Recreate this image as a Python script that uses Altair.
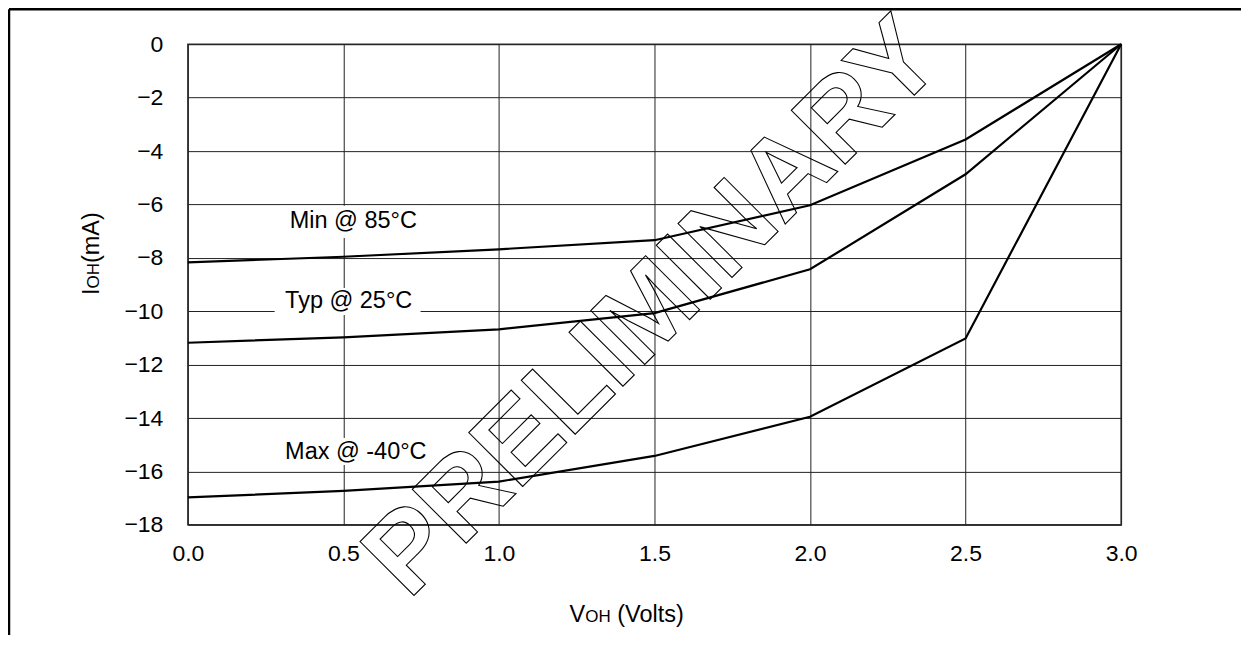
import altair as alt
import pandas as pd

# ---- data ----
voh = [0.0, 0.5, 1.0, 1.5, 2.0, 2.5, 3.0]
ioh_min_85 = [-8.17, -7.96, -7.68, -7.34, -6.03, -3.57, 0.0]
ioh_typ_25 = [-11.18, -10.98, -10.68, -10.07, -8.43, -4.87, 0.0]
ioh_max_m40 = [-16.97, -16.73, -16.38, -15.42, -13.95, -11.02, 0.0]
series_names = ["Min @ 85°C", "Typ @ 25°C", "Max @ -40°C"]

x_ticks = [0.0, 0.5, 1.0, 1.5, 2.0, 2.5, 3.0]
y_ticks = [-18, -16, -14, -12, -10, -8, -6, -4, -2, 0]

# annotation anchors (data units) and their white backing boxes
label_x = [0.532, 0.517, 0.540]
label_y = [-6.89, -9.88, -15.53]
box_x1 = [0.296, 0.279, 0.279]
box_x2 = [0.768, 0.748, 0.800]
box_y1 = [-6.05, -9.13, -14.75]
box_y2 = [-7.26, -10.14, -15.76]

watermark = "PRELIMINARY"

# ---- tables ----
rows = []
for name, vals in zip(series_names, [ioh_min_85, ioh_typ_25, ioh_max_m40]):
    for v, i in zip(voh, vals):
        rows.append({"series": name, "v": v, "i": i})
df = pd.DataFrame(rows)

ann = pd.DataFrame({
    "label": series_names, "lx": label_x, "ly": label_y,
    "bx1": box_x1, "bx2": box_x2, "by1": box_y1, "by2": box_y2,
})

W, H = 934, 481
FONT = "Liberation Sans"
FS = 23
FA = 23.5

x_scale = alt.Scale(domain=[0, 3], nice=False, zero=False)
y_scale = alt.Scale(domain=[-18, 0], nice=False, zero=False)

boxes = alt.Chart(ann).mark_rect(fill="white", stroke=None).encode(
    x=alt.X("bx1:Q", scale=x_scale, title=None,
            axis=alt.Axis(values=x_ticks, format=".1f", labelFlush=False,
                          labelPadding=18, labelOverlap=False)),
    x2="bx2:Q",
    y=alt.Y("by1:Q", scale=y_scale, title=None,
            axis=alt.Axis(values=y_ticks, format="d", labelFlush=False,
                          labelPadding=25, labelOverlap=False)),
    y2="by2:Q",
)

lines = alt.Chart(df).mark_line(color="black", strokeWidth=2.2).encode(
    x=alt.X("v:Q", scale=x_scale, title=None),
    y=alt.Y("i:Q", scale=y_scale, title=None),
    detail="series:N",
)

labels = alt.Chart(ann).mark_text(
    font=FONT, fontSize=FA, align="center", baseline="alphabetic", color="black"
).encode(
    x=alt.X("lx:Q", scale=x_scale, title=None),
    y=alt.Y("ly:Q", scale=y_scale, title=None),
    text="label:N",
)


def txt(s, x, y, size=FA, angle=0, align="left", weight="normal"):
    return alt.Chart(pd.DataFrame({"t": [s]})).mark_text(
        font=FONT, fontSize=size, align=align, baseline="alphabetic",
        color="black", angle=angle, fontWeight=weight,
    ).encode(text="t:N", x=alt.value(x), y=alt.value(y))


# x axis title  "VOH (Volts)" with small OH
xt = [
    txt("V", 382, 578),
    txt("OH", 397.7, 578, size=17),
    txt("(Volts)", 429.7, 578),
]
# y axis title "IOH(mA)" rotated
yt = [
    txt("I", -89, 251, angle=270),
    txt("OH", -89, 244.5, size=17, angle=270),
    txt("(mA)", -89, 219.0, angle=270),
]

wm = alt.Chart(pd.DataFrame({"t": [watermark]})).mark_text(
    font=FONT, fontSize=111, fontWeight="bold", align="left",
    baseline="alphabetic", angle=315, fill=None, stroke="black",
    strokeWidth=1.1,
).encode(text="t:N", x=alt.value(221), y=alt.value(557))

one = pd.DataFrame({"a": [1]})
frame_top = alt.Chart(one).mark_rule(color="black", strokeWidth=2.5).encode(
    x=alt.value(-179), x2=alt.value(1060), y=alt.value(-35))
frame_left = alt.Chart(one).mark_rule(color="black", strokeWidth=2.5).encode(
    x=alt.value(-179), y=alt.value(-35), y2=alt.value(600))

chart = alt.layer(
    boxes, lines, labels, *xt, *yt, wm, frame_top, frame_left
).properties(
    width=W, height=H,
    autosize=alt.AutoSizeParams(type="none"),
    padding={"left": 180, "top": 36, "right": 120, "bottom": 110},
    background="white",
).configure_view(
    stroke="#333", strokeWidth=1.5,
).configure_axis(
    domain=False, ticks=False, grid=True, gridColor="#222", gridWidth=1,
    gridOpacity=1, labelFont=FONT, labelFontSize=FS, labelColor="black",
)

chart.save("out.html", embed_options={"renderer": "svg", "actions": False})
